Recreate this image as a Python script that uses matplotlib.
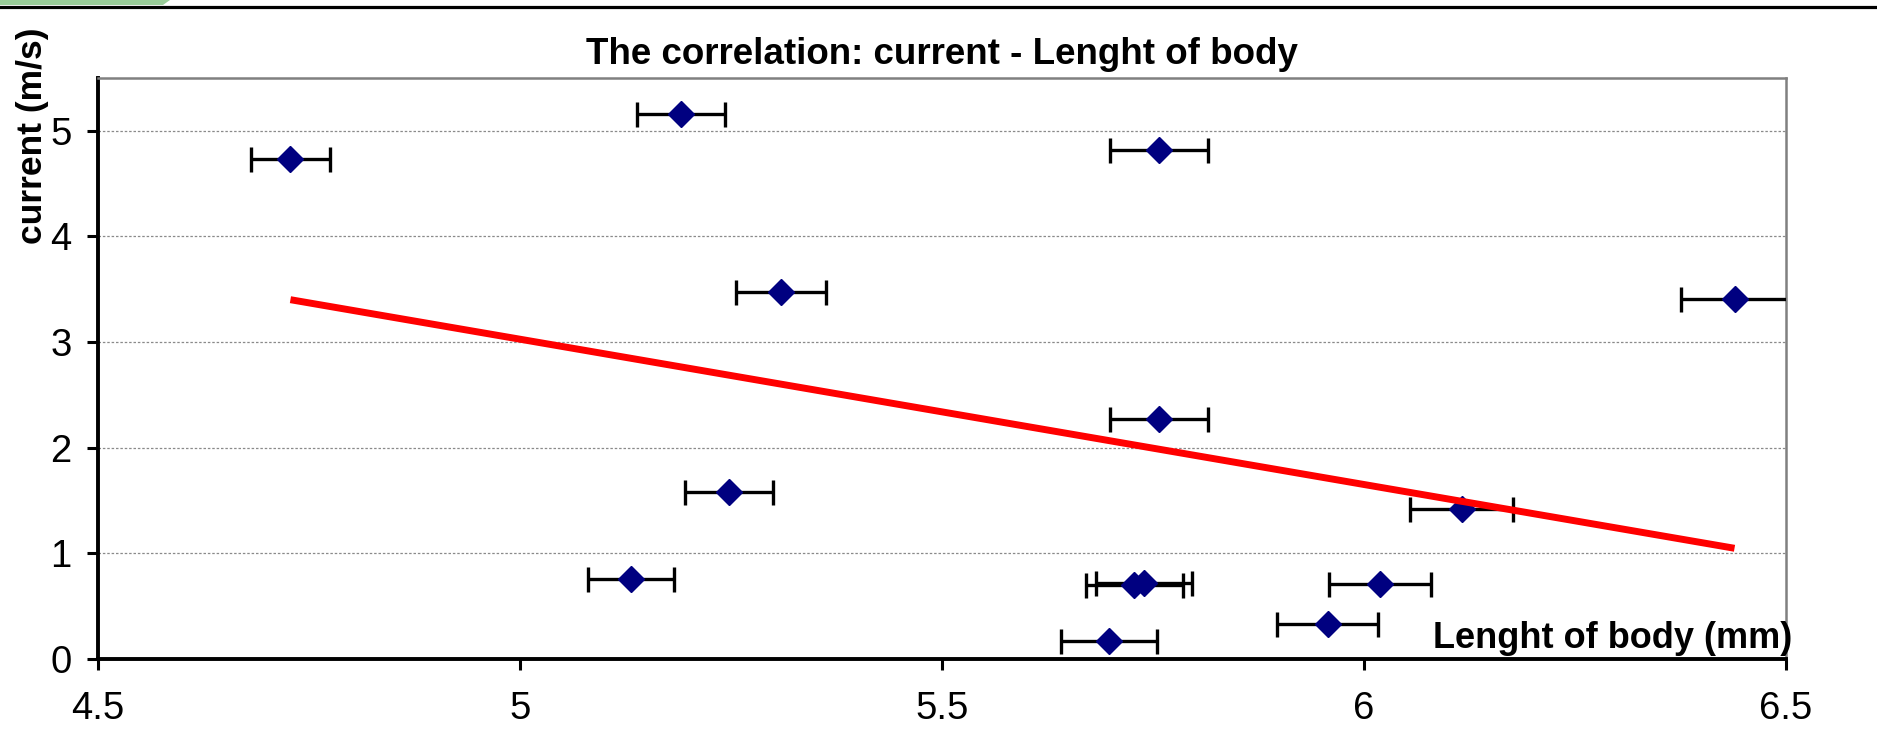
import matplotlib.pyplot as plt
from matplotlib.lines import Line2D
from matplotlib.patches import Polygon
import numpy as np

plt.rcParams['font.family'] = ['Liberation Sans', 'DejaVu Sans']

# values: body length (mm) vs current (m/s)
length = [4.728, 5.191, 5.757, 5.309, 6.439, 5.757, 5.248, 6.116, 5.131, 5.728, 5.739, 6.019, 5.957, 5.698]
current = [4.73, 5.16, 4.82, 3.47, 3.41, 2.27, 1.58, 1.42, 0.76, 0.70, 0.72, 0.71, 0.33, 0.175]
length_err = [0.047, 0.052, 0.058, 0.053, 0.064, 0.058, 0.052, 0.061, 0.051, 0.057, 0.057, 0.060, 0.060, 0.057]

x_ticks = [4.5, 5, 5.5, 6, 6.5]
x_tick_labels = ["4.5", "5", "5.5", "6", "6.5"]
y_ticks = [0, 1, 2, 3, 4, 5]

W, H = 1877, 742
fig = plt.figure(figsize=(W / 100, H / 100), dpi=100)

# axes box in pixels: left 98, right 1786, top 78, bottom 659
ax = fig.add_axes([98 / W, 1 - 659 / H, (1786 - 98) / W, (659 - 78) / H])

ax.errorbar(length, current, xerr=length_err, fmt='none', ecolor='black',
            elinewidth=2.4, capsize=9, capthick=2.4, zorder=3)
ax.plot(length, current, linestyle='none', marker='D', markersize=13,
        color='#000080', markeredgecolor='#000080', zorder=4)

# linear trendline over the data range
slope, intercept = np.polyfit(length, current, 1)
tx = np.array([min(length), max(length)])
ax.plot(tx, slope * tx + intercept, color='red', linewidth=5, zorder=5,
        solid_capstyle='butt')

ax.set_xlim(4.5, 6.5)
ax.set_ylim(0, 5.5)
ax.set_xticks(x_ticks)
ax.set_xticklabels(x_tick_labels)
ax.set_yticks(y_ticks)

ax.yaxis.grid(True, color='#8a8a8a', linestyle=(0, (2, 1.5)), linewidth=0.9)
ax.set_axisbelow(True)

ax.tick_params(axis='both', direction='out', length=8, width=2.2, labelsize=27.5)
ax.tick_params(axis='x', pad=15)
ax.tick_params(axis='y', pad=11)

for side in ['left', 'bottom']:
    ax.spines[side].set_color('black')
    ax.spines[side].set_linewidth(2.8)
for side in ['top', 'right']:
    ax.spines[side].set_color('#808080')
    ax.spines[side].set_linewidth(1.8)

# x label sits inside the plot, bottom right
ax.text((1792 - 98) / (1786 - 98), (659 - 648) / (659 - 78), "Lenght of body (mm)",
        transform=ax.transAxes, ha='right', va='baseline', fontsize=26,
        fontweight='bold', clip_on=False, zorder=6)

fig.text(33 / W, 1 - 136 / H, "current (m/s)", rotation=90, ha='center', va='center',
         fontsize=25.5, fontweight='bold')
fig.text(942 / W, 1 - 64 / H, "The correlation: current - Lenght of body",
         ha='center', va='baseline', fontsize=26.5, fontweight='bold')

# slide decoration at the top: green tab and black rule
fig.add_artist(Polygon([[0, 1], [170 / W, 1], [163 / W, 1 - 5 / H], [0, 1 - 5 / H]],
                       closed=True, transform=fig.transFigure, facecolor='#99cc99',
                       edgecolor='none'))
fig.add_artist(Line2D([0, 1], [1 - 6.5 / H, 1 - 6.5 / H], transform=fig.transFigure,
                      color='black', linewidth=2.3))

plt.savefig("out.png", dpi=100)
